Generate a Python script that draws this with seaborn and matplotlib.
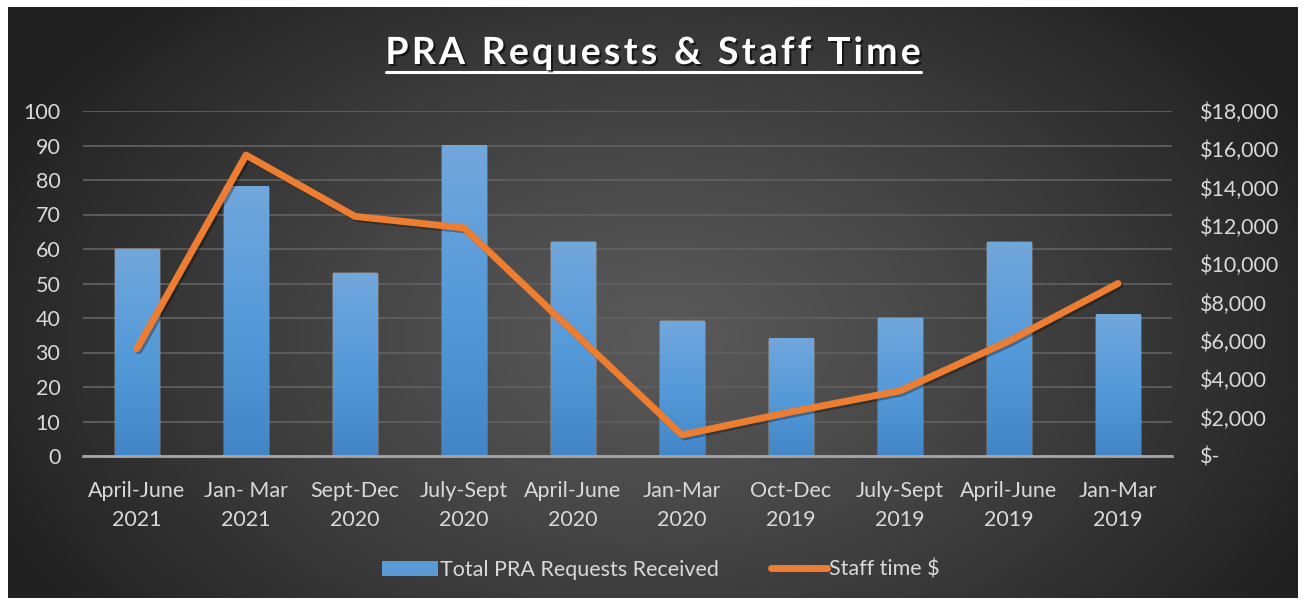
import numpy as np
import pandas as pd
import matplotlib
matplotlib.use('Agg')
import matplotlib.pyplot as plt
import matplotlib.patheffects as pe
from matplotlib.colors import LinearSegmentedColormap
from matplotlib.lines import Line2D
from matplotlib.patches import Patch
from matplotlib.ticker import FuncFormatter, MultipleLocator
import seaborn as sns

# Veriler
periods = ['April-June', 'Jan- Mar', 'Sept-Dec', 'July-Sept', 'April-June',
           'Jan-Mar', 'Oct-Dec', 'July-Sept', 'April-June', 'Jan-Mar']
years = ['2021', '2021', '2020', '2020', '2020', '2020', '2019', '2019', '2019', '2019']
requests = [60, 78, 53, 90, 62, 39, 34, 40, 62, 41]
staff_cost = [5600, 15700, 12500, 11900, 6500, 1100, 2300, 3400, 6000, 9000]
title = 'PRA Requests & Staff Time'

labels = [p + '\n' + y for p, y in zip(periods, years)]
df = pd.DataFrame({'label': labels, 'requests': requests, 'cost': staff_cost})

sns.set_style('white')
plt.rcParams['font.family'] = ['Lato', 'DejaVu Sans']
txt = '#d9d9d9'
W, H = 1304, 605
fs = 15.5

fig = plt.figure(figsize=(W / 100, H / 100), dpi=100, facecolor='white')

# arka plan (radyal gradyan)
bg = fig.add_axes([8 / W, 7 / H, 1290 / W, 591 / H])
bg.set_axis_off()
yy, xx = np.mgrid[0:591, 0:1290]
d = np.sqrt(((xx - 650) / 720) ** 2 + ((yy - 330) / 470) ** 2)
d = np.clip(d, 0, 1) ** 1.2
c_in, c_out = np.array([0.35, 0.35, 0.35]), np.array([0.13, 0.13, 0.13])
img = c_in[None, None, :] * (1 - d[..., None]) + c_out[None, None, :] * d[..., None]
bg.imshow(img, aspect='auto', extent=[0, 1, 0, 1])
bg.set_xlim(0, 1)
bg.set_ylim(0, 1)

ax = fig.add_axes([82.5 / W, (H - 456) / H, 1090 / W, 345 / H])
ax.patch.set_alpha(0)
sns.barplot(data=df, x='label', y='requests', color='#5b9bd5', width=0.41,
            saturation=1, ax=ax, zorder=2)

# çubuklara dikey gradyan
grad_cmap = LinearSegmentedColormap.from_list('g', ['#4286c7', '#559ad9', '#72a7dc'])
grad = np.linspace(0, 1, 256).reshape(-1, 1)
for p in ax.patches:
    x0, w, h = p.get_x(), p.get_width(), p.get_height()
    ax.imshow(grad, cmap=grad_cmap, origin='lower', aspect='auto',
              extent=[x0, x0 + w, 0, h], zorder=3)

ax.set_xlim(-0.5, 9.5)
ax.set_ylim(0, 100)
ax.yaxis.set_major_locator(MultipleLocator(10))
ax.grid(axis='y', color='#5f5f5f', lw=1.3, zorder=0)
ax.set_axisbelow(True)
for s in ['top', 'right', 'left']:
    ax.spines[s].set_visible(False)
ax.spines['bottom'].set_color('#a6a6a6')
ax.spines['bottom'].set_linewidth(2)
ax.spines['bottom'].set_zorder(4)
ax.set_xlabel('')
ax.set_ylabel('')
ax.tick_params(axis='both', length=0, colors=txt, labelsize=fs)
ax.tick_params(axis='x', pad=18)
ax.tick_params(axis='y', pad=16)
for t in ax.get_xticklabels():
    t.set_linespacing(1.55)

ax2 = ax.twinx()
sns.lineplot(x=np.arange(len(staff_cost)), y=staff_cost, ax=ax2, color='#ed7d31',
             lw=5, solid_capstyle='round', solid_joinstyle='round', zorder=5,
             path_effects=[pe.SimpleLineShadow(offset=(1.5, -1.5), alpha=0.3, shadow_color='black'),
                           pe.Normal()])
ax2.set_ylim(0, 18000)
ax2.set_xlim(-0.5, 9.5)
ax2.yaxis.set_major_locator(MultipleLocator(2000))
ax2.yaxis.set_major_formatter(FuncFormatter(lambda v, _: '$-' if v == 0 else f'${v:,.0f}'))
ax2.tick_params(axis='y', length=0, colors=txt, labelsize=fs, pad=20)
for s in ax2.spines.values():
    s.set_visible(False)

# başlık: harf aralığı açık, karakter karakter yerleştir
renderer = fig.canvas.get_renderer()
track = 3.2
chars = []
total = 0
for ch in title:
    t = fig.text(0, 0, ch if ch != ' ' else 'i', fontsize=27, fontweight='bold', color='white')
    w = t.get_window_extent(renderer).width
    if ch == ' ':
        w = w * 1.1
    t.remove()
    chars.append((ch, w))
    total += w + track
total -= track
x = 653 - total / 2
for ch, w in chars:
    if ch != ' ':
        fig.text(x / W, 1 - 53 / H, ch, ha='left', va='center', color='white',
                 fontsize=27, fontweight='bold',
                 path_effects=[pe.withSimplePatchShadow(offset=(1.5, -1.5),
                                                        shadow_rgbFace='black', alpha=0.6)])
    x += w + track
fig.add_artist(Line2D([386 / W, 921 / W], [1 - 72 / H, 1 - 72 / H], color='white', lw=2.2,
                      transform=fig.transFigure))

handles = [Patch(facecolor='#5b9bd5', edgecolor='none'),
           Line2D([0], [0], color='#ed7d31', lw=5, solid_capstyle='round')]
fig.legend(handles, ['Total PRA Requests Received', 'Staff time $'], ncol=2,
           loc='center', bbox_to_anchor=(661 / W, 1 - 570 / H), frameon=False,
           fontsize=fs, labelcolor=txt, handlelength=2.6, handletextpad=0.1,
           columnspacing=2.4)

fig.savefig('out.png', dpi=100, facecolor='white')
